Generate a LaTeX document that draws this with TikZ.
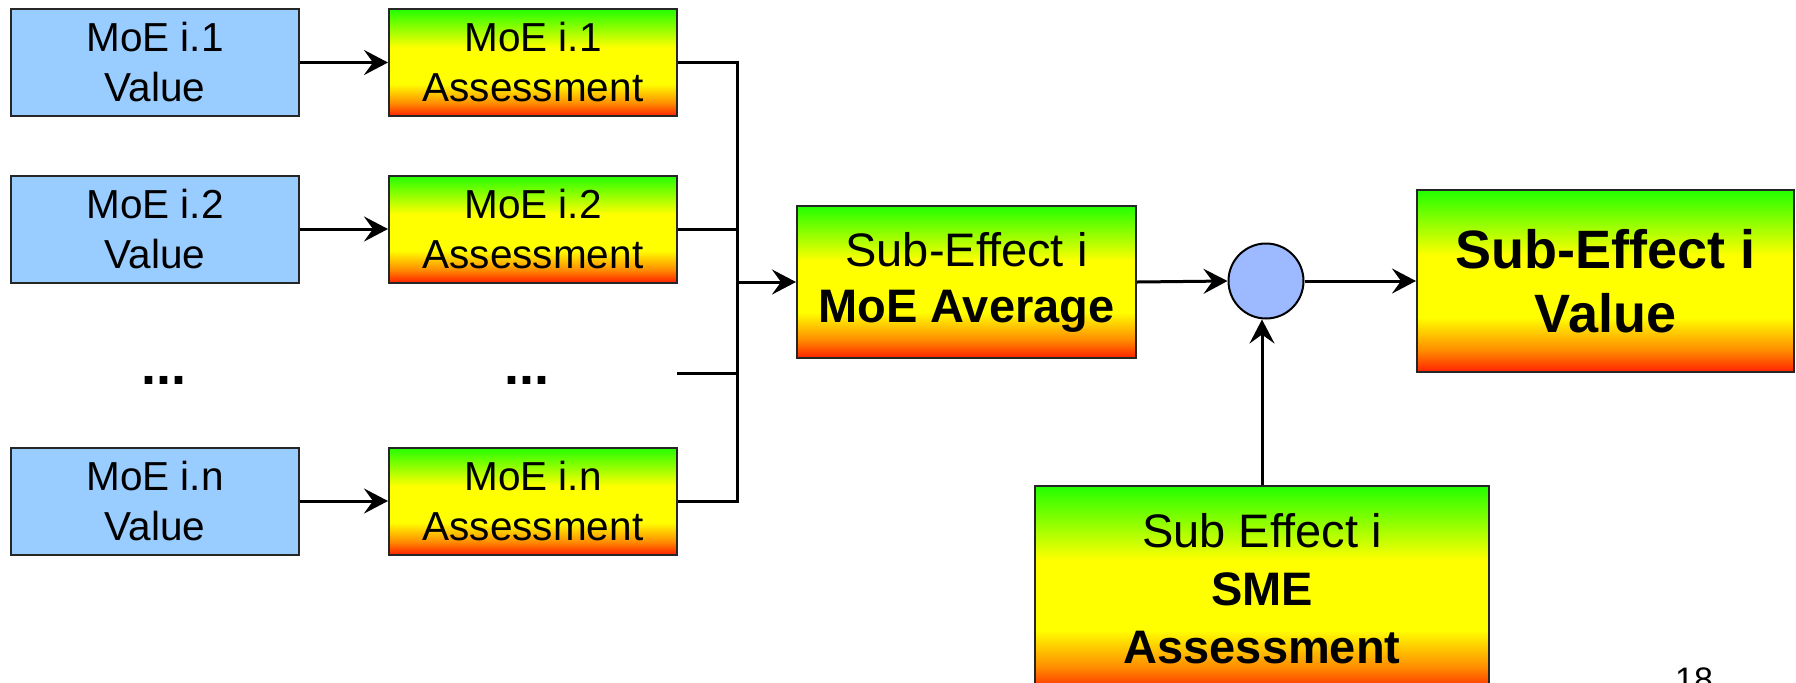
\documentclass[tikz,border=0pt]{standalone}
\usepackage{fontspec}
\setmainfont{Liberation Sans}
\usetikzlibrary{arrows.meta}
\definecolor{gred}{HTML}{FF2000}
\definecolor{gorange}{HTML}{FF8C00}
\definecolor{gyellow}{HTML}{FFFF00}
\definecolor{ggreen}{HTML}{22FF00}
\definecolor{vblue}{HTML}{99CCFF}
\definecolor{cblue}{HTML}{9DB9FF}
\pgfdeclareverticalshading{gyr}{100bp}{color(0bp)=(gred); color(25bp)=(gred); color(31bp)=(gorange); color(40bp)=(gyellow); color(57bp)=(gyellow); color(75bp)=(ggreen); color(100bp)=(ggreen)}
\tikzset{
  vbox/.style={draw=black!85, line width=1pt, fill=vblue, align=center, inner sep=0pt,
    minimum width=144pt, minimum height=53.5pt, font=\fontsize{20.25}{25}\selectfont},
  gbox/.style={draw=black!85, line width=1pt, shading=gyr, align=center, inner sep=0pt},
  abox/.style={gbox, minimum width=144pt, minimum height=53.5pt, font=\fontsize{20.25}{25}\selectfont},
  arr/.style={-{Stealth[length=12pt,width=12.5pt,inset=4.5pt]}, line width=1.5pt},
  ln/.style={line width=1.5pt},
  dots/.style={font=\fontsize{27}{30}\selectfont\bfseries, anchor=base}
}
\begin{document}
\begin{tikzpicture}[x=0.5pt,y=-0.5pt]
\useasboundingbox (0,0) rectangle (1796,682);
\clip (0,0) rectangle (1796,682);
% value boxes
\node[vbox] (v1) at (155,62.5) {MoE i.1\\Value};
\node[vbox] (v2) at (155,229) {MoE i.2\\Value};
\node[vbox] (vn) at (155,501) {MoE i.n\\Value};
% assessment boxes
\node[abox] (a1) at (533,62.5) {MoE i.1\\Assessment};
\node[abox] (a2) at (533,229) {MoE i.2\\Assessment};
\node[abox] (an) at (533,501) {MoE i.n\\Assessment};
% dots
\node[dots] (d1) at (164,384) {...};
\node[dots] (d2) at (527,384) {...};
% average
\node[gbox, minimum width=169.5pt, minimum height=76pt, font=\fontsize{23.5}{28}\selectfont] (avg) at (966.5,282) {Sub-Effect i\\\textbf{MoE Average}};
% circle
\node[circle, draw=black, line width=1pt, fill=cblue, minimum size=37.5pt, inner sep=0pt] (circ) at (1266,281) {};
% final value
\node[gbox, minimum width=188.5pt, minimum height=91pt, font=\fontsize{27}{32}\selectfont\bfseries] (val) at (1605.5,281) {Sub-Effect i\\Value};
% SME
\node[gbox, minimum width=227pt, minimum height=103pt, font=\fontsize{23.5}{29}\selectfont] (sme) at (1262,589) {Sub Effect i\\\textbf{SME}\\\textbf{Assessment}};
% page number
\node[anchor=base, font=\fontsize{17}{20}\selectfont] (pg) at (1694,691) {18};
% connectors
\draw[arr] (v1) -- (a1);
\draw[arr] (v2) -- (a2);
\draw[arr] (vn) -- (an);
\coordinate (bt) at (737,62.5);
\coordinate (bb) at (737,501);
\coordinate (stub) at (677,373);
\draw[ln] (a1.east) -- (bt) -- (bb) -- (an.east);
\draw[ln] (a2.east) -- (a2.east -| bt);
\draw[ln] (stub) -- (stub -| bt);
\draw[arr] (avg.west -| bt) -- (avg.west);
\draw[arr] (avg.east) -- (circ.west);
\draw[arr] (circ.east) -- (circ.east -| val.west);
\draw[arr] (sme.north) -- (sme.north |- circ.south);
\end{tikzpicture}
\end{document}
